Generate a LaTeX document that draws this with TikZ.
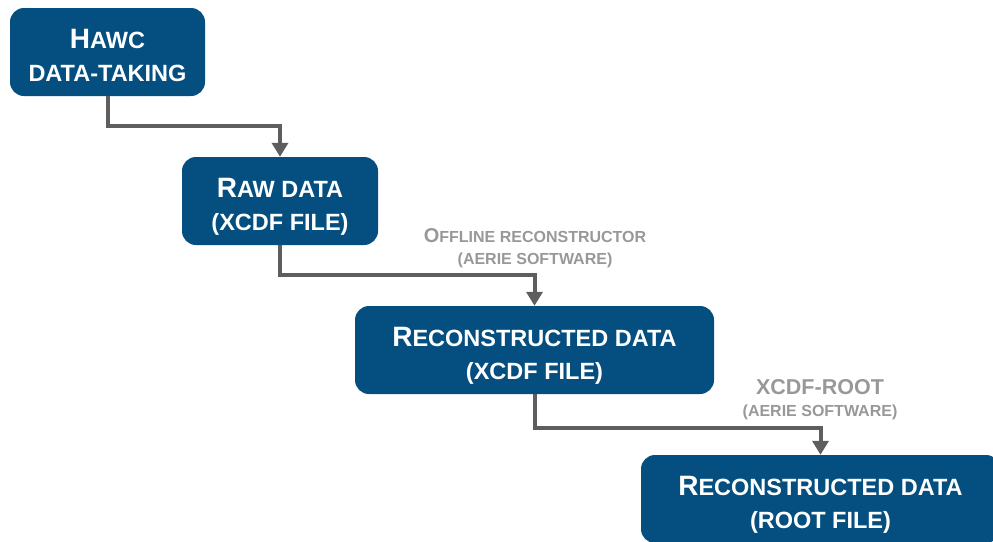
\documentclass[tikz,border=0pt]{standalone}
\usepackage{fontspec}
\setmainfont{Liberation Sans}
\usetikzlibrary{arrows.meta}
\definecolor{hawcblue}{RGB}{4,79,128}
\definecolor{flowgray}{RGB}{94,94,94}
\definecolor{notegray}{RGB}{152,152,152}
\newcommand\boxcap[1]{{\fontsize{28}{33}\selectfont #1}}
\newcommand\notecap[1]{{\fontsize{20}{22}\selectfont #1}}
% two text lines of a box, with struts that fix where they sit
\newcommand\boxlines[2]{\rule{0pt}{32pt}#1\\#2\rule[-6pt]{0pt}{6pt}}
\begin{document}
\begin{tikzpicture}[x=1pt,y=-1pt,
  box/.style={fill=hawcblue,rounded corners=14pt,text=white,inner sep=0pt,
    minimum height=88pt,align=center,font=\bfseries\fontsize{23.5}{33}\selectfont},
  note/.style={text=notegray,align=center,font=\bfseries\fontsize{16}{22}\selectfont},
  flow/.style={draw=flowgray,line width=4pt,-{Triangle[width=16pt,length=14pt]}}]
\useasboundingbox (0,0) rectangle (993,541);
\clip (0,0) rectangle (993,541);
% processing chain
\node[box,minimum width=195pt] (hawc) at (107.5,52) {\boxlines{\boxcap{H}AWC}{DATA-TAKING}};
\node[box,minimum width=196pt] (raw) at (280,201) {\boxlines{\boxcap{R}AW DATA}{(XCDF FILE)}};
\node[box,minimum width=359pt] (recx) at (534.5,350) {\boxlines{\boxcap{R}ECONSTRUCTED DATA}{(XCDF FILE)}};
\node[box,minimum width=359pt] (recr) at (820.5,499) {\boxlines{\boxcap{R}ECONSTRUCTED DATA}{(ROOT FILE)}};
% software labels
\node[note] (offline) at (535,248) {\notecap{O}FFLINE RECONSTRUCTOR\\(AERIE SOFTWARE)};
\node[note] (xroot) at (820,399.5) {{\fontsize{21.5}{24.5}\selectfont XCDF-ROOT}\\(AERIE SOFTWARE)};
% arrows
\draw[flow] (hawc.south) -- ++(0,30) -| (raw.north);
\draw[flow] (raw.south) -- ++(0,30) -| (recx.north);
\draw[flow] (recx.south) -- ++(0,34) -| (recr.north);
\end{tikzpicture}
\end{document}
